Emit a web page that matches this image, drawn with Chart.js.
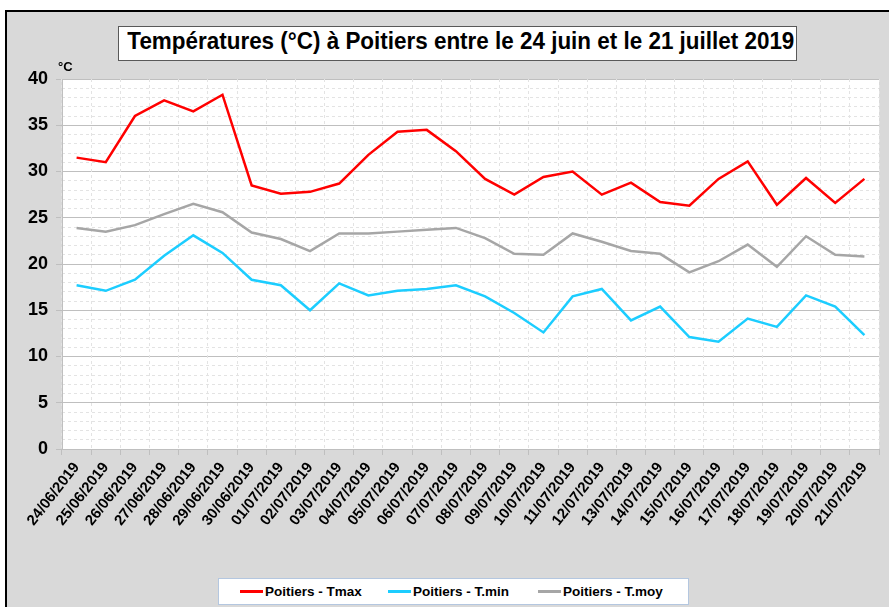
<!DOCTYPE html>
<html lang="fr">
<head>
<meta charset="utf-8">
<title>Températures à Poitiers</title>
<script src="https://cdn.jsdelivr.net/npm/chart.js@4.4.1/dist/chart.umd.min.js"></script>
<style>
  body { margin: 0; width: 889px; height: 607px; overflow: hidden; background: #fff; position: relative; font-family: 'Liberation Sans', Arial, sans-serif; }
  #frame { position: absolute; left: 5px; top: 10px; width: 900px; height: 620px; background: #d9d9d9; border: 2px solid #000; box-sizing: border-box; }
  #chartWrap { position: absolute; left: 0; top: 0; width: 889px; height: 607px; }
  #title { position: absolute; left: 118px; top: 26px; width: 679px; height: 35px; box-sizing: border-box; background: #fff; border: 1px solid #595959;
           text-align: center; line-height: 33px; white-space: nowrap; overflow: hidden; color: #000; }
  #title span { display: inline-block; font: bold 23px 'Liberation Sans', Arial, sans-serif; transform-origin: center; }
  #legend { position: absolute; left: 218px; top: 578px; width: 471px; height: 27px; box-sizing: border-box; background: #fff; border: 1px solid #b4c7e0;
            font: bold 13.5px 'Liberation Sans', Arial, sans-serif; color: #000; }
  .item { position: absolute; top: 5px; line-height: 16px; white-space: nowrap; }
  .swatch { display: inline-block; width: 23px; height: 2.5px; vertical-align: middle; margin-right: 2px; position: relative; top: -1px; }
</style>
</head>
<body>
<div id="frame"></div>
<div id="chartWrap"><canvas id="chart"></canvas></div>
<div id="title"><span>Températures (°C) à Poitiers entre le 24 juin et le 21 juillet 2019</span></div>
<div id="legend"></div>

<script>
const dates = [
  '24/06/2019', '25/06/2019', '26/06/2019', '27/06/2019', '28/06/2019', '29/06/2019', '30/06/2019',
  '01/07/2019', '02/07/2019', '03/07/2019', '04/07/2019', '05/07/2019', '06/07/2019', '07/07/2019',
  '08/07/2019', '09/07/2019', '10/07/2019', '11/07/2019', '12/07/2019', '13/07/2019', '14/07/2019',
  '15/07/2019', '16/07/2019', '17/07/2019', '18/07/2019', '19/07/2019', '20/07/2019', '21/07/2019'
];

const tmax = [31.5, 31.0, 36.0, 37.7, 36.5, 38.3, 28.5, 27.6, 27.8, 28.7, 31.8, 34.3, 34.5, 32.2,
              29.2, 27.5, 29.4, 30.0, 27.5, 28.8, 26.7, 26.3, 29.2, 31.1, 26.4, 29.3, 26.6, 29.2];
const tmin = [17.7, 17.1, 18.3, 20.9, 23.1, 21.2, 18.3, 17.7, 15.0, 17.9, 16.6, 17.1, 17.3, 17.7,
              16.5, 14.7, 12.6, 16.5, 17.3, 13.9, 15.4, 12.1, 11.6, 14.1, 13.2, 16.6, 15.4, 12.3];
const tmoy = [23.9, 23.5, 24.2, 25.4, 26.5, 25.6, 23.4, 22.7, 21.4, 23.3, 23.3, 23.5, 23.7, 23.9,
              22.8, 21.1, 21.0, 23.3, 22.4, 21.4, 21.1, 19.1, 20.3, 22.1, 19.7, 23.0, 21.0, 20.8];

const seriesNames = ['Poitiers - Tmax', 'Poitiers - T.min', 'Poitiers - T.moy'];
const seriesColors = ['#ff0000', '#1ccdff', '#a6a6a6'];
const yTicks = [0, 5, 10, 15, 20, 25, 30, 35, 40];

// titre : police étroite simulée (pas de police condensée installée)
const titleSpan = document.querySelector('#title span');
const titleW = titleSpan.getBoundingClientRect().width;
titleSpan.style.transform = `scaleX(${667 / titleW})`;

// fond blanc de la zone de tracé + unité
const plotBg = {
  id: 'plotBg',
  beforeDraw(chart) {
    const { ctx, chartArea: a } = chart;
    ctx.save();
    ctx.fillStyle = '#fff';
    ctx.fillRect(a.left, a.top, a.right - a.left, a.bottom - a.top);
    ctx.restore();
  },
  afterDraw(chart) {
    const { ctx, chartArea: a } = chart;
    ctx.save();
    ctx.fillStyle = '#000';
    ctx.font = "bold 13px 'Liberation Sans', Arial, sans-serif";
    ctx.fillText('°C', a.left - 4, a.top - 8);
    ctx.restore();
  }
};

const ctx = document.getElementById('chart').getContext('2d');
new Chart(ctx, {
  type: 'line',
  data: {
    labels: dates,
    datasets: [tmax, tmin, tmoy].map((d, i) => ({
      label: seriesNames[i],
      data: d,
      borderColor: seriesColors[i],
      backgroundColor: seriesColors[i],
      borderWidth: 2.5,
      pointRadius: 0,
      tension: 0,
      fill: false
    }))
  },
  options: {
    responsive: true,
    maintainAspectRatio: false,
    animation: false,
    layout: { padding: { top: 79, right: 10, left: 0, bottom: 0 } },
    plugins: {
      legend: { display: false },
      title: { display: false },
      tooltip: { enabled: false }
    },
    scales: {
      yMinor: {
        position: 'left',
        min: 0,
        max: 40,
        ticks: { display: false, stepSize: 1 },
        grid: { color: '#e3e3e3', drawTicks: false },
        border: { display: false, dash: [3, 3] },
        afterFit(scale) { scale.width = 0; }
      },
      y: {
        position: 'left',
        min: 0,
        max: 40,
        afterBuildTicks(scale) { scale.ticks = yTicks.map(v => ({ value: v })); },
        ticks: {
          color: '#000',
          padding: 8,
          font: { family: "'Liberation Sans', Arial, sans-serif", size: 18, weight: 'bold' }
        },
        grid: { color: '#bfbfbf', lineWidth: 1, tickLength: 6, tickColor: '#bfbfbf' },
        border: { color: '#bfbfbf', width: 1 },
        afterFit(scale) { scale.width = 62; }
      },
      x: {
        offset: true,
        grid: {
          offset: true,
          color: '#e3e3e3',
          tickColor: '#bfbfbf',
          tickLength: 6,
          tickBorderDash: []
        },
        border: { color: '#bfbfbf', width: 1, dash: [3, 3] },
        ticks: {
          color: '#000',
          autoSkip: false,
          minRotation: 52,
          maxRotation: 52,
          padding: 4,
          font: { family: "'Liberation Sans', Arial, sans-serif", size: 15, weight: 'bold' }
        },
        afterFit(scale) { scale.height = 158; }
      }
    }
  },
  plugins: [plotBg]
});

// légende en dessous
const legend = document.getElementById('legend');
const legendX = [21, 169, 319];
seriesNames.forEach((name, i) => {
  const item = document.createElement('div');
  item.className = 'item';
  item.style.left = legendX[i] + 'px';
  item.innerHTML = `<span class="swatch" style="background:${seriesColors[i]}"></span>${name}`;
  legend.appendChild(item);
});
</script>
</body>
</html>
